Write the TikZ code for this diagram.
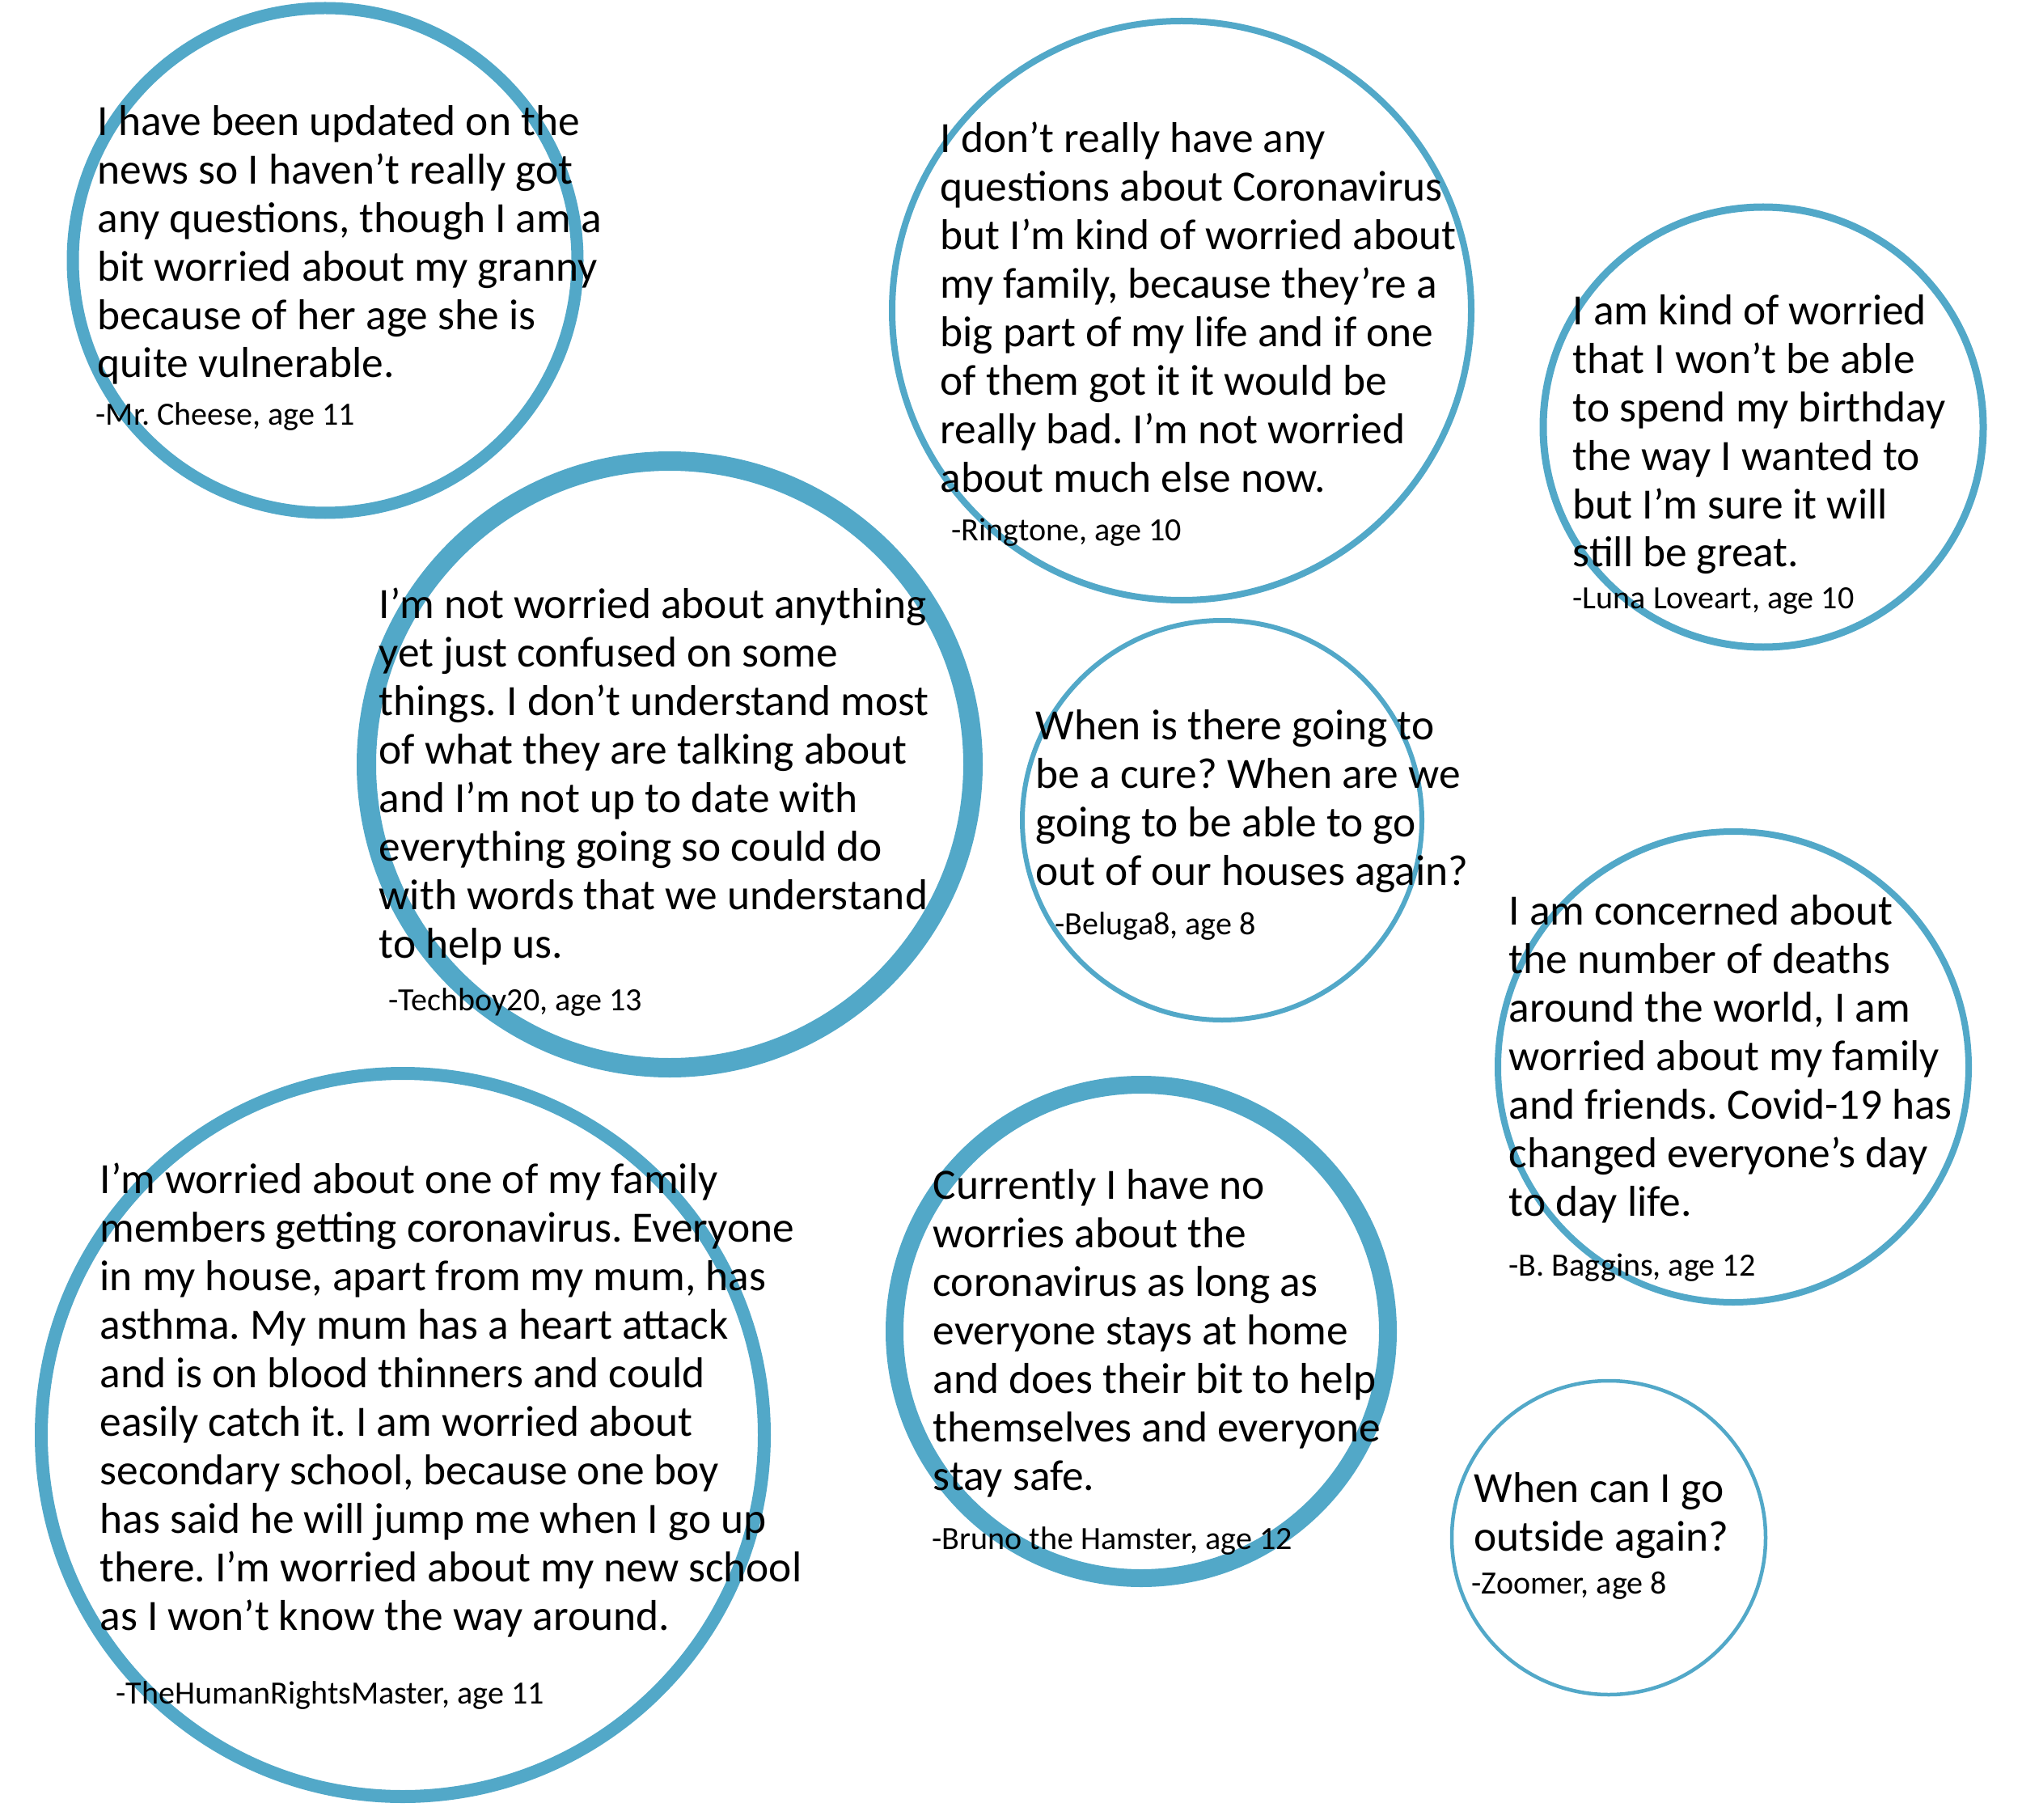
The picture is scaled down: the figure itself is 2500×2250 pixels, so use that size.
\documentclass[tikz,border=0pt]{standalone}
\usepackage{fontspec}
\setmainfont{Carlito}
\frenchspacing
\definecolor{bubble}{RGB}{82,168,200}
\tikzset{
  ring/.style={draw=bubble},
  quote/.style={anchor=base west, align=left, inner sep=0pt, font=\fontsize{15.2pt}{17.07pt}\selectfont},
  who/.style={anchor=base west, inner sep=0pt, font=\fontsize{11.4pt}{13pt}\selectfont}
}
\begin{document}
\begin{tikzpicture}[x=0.1mm, y=-0.1mm]
\useasboundingbox (0,0) rectangle (2500,2250);

% Bubbles
\draw[ring, line width=1.5mm]  (402,322)   circle[radius=312];
\draw[ring, line width=0.8mm]  (1461,384)  circle[radius=358];
\draw[ring, line width=0.9mm]  (2180,528)  circle[radius=272];
\draw[ring, line width=2.4mm]  (828,945)   circle[radius=375];
\draw[ring, line width=0.6mm]  (1511,1014) circle[radius=247];
\draw[ring, line width=0.8mm]  (2143,1319) circle[radius=291];
\draw[ring, line width=1.6mm]  (498,1774)  circle[radius=447];
\draw[ring, line width=2.2mm]  (1411,1646) circle[radius=305];
\draw[ring, line width=0.45mm] (1989,1901) circle[radius=194];

% Quotes (placed at the baseline of their last line)
\node[quote] (cheese) at (120,467) {I have been updated on the\\news so I haven’t really got\\any questions, though I am a\\bit worried about my granny\\because of her age she is\\quite vulnerable.};
\node[who] (cheesewho) at (118,526) {-Mr. Cheese, age 11};

\node[quote] (ringtone) at (1162,608) {I don’t really have any\\questions about Coronavirus\\but I’m kind of worried about\\my family, because they’re a\\big part of my life and if one\\of them got it it would be\\really bad. I’m not worried\\about much else now.};
\node[who] (ringtonewho) at (1176,669) {-Ringtone, age 10};

\node[quote] (luna) at (1944,701) {I am kind of worried\\that I won’t be able\\to spend my birthday\\the way I wanted to\\but I’m sure it will\\still be great.};
\node[who] (lunawho) at (1944,752) {-Luna Loveart, age 10};

\node[quote] (techboy) at (468,1184) {I’m not worried about anything\\yet just confused on some\\things. I don’t understand most\\of what they are talking about\\and I’m not up to date with\\everything going so could do\\with words that we understand\\to help us.};
\node[who] (techboywho) at (480,1249) {-Techboy20, age 13};

\node[quote] (beluga) at (1280,1094) {When is there going to\\be a cure? When are we\\going to be able to go\\out of our houses again?};
\node[who] (belugawho) at (1304,1155) {-Beluga8, age 8};

\node[quote] (baggins) at (1865,1503) {I am concerned about\\the number of deaths\\around the world, I am\\worried about my family\\and friends. Covid-19 has\\changed everyone’s day\\to day life.};
\node[who] (bagginswho) at (1865,1577) {-B. Baggins, age 12};

\node[quote] (rights) at (123,2015) {I’m worried about one of my family\\members getting coronavirus. Everyone\\in my house, apart from my mum, has\\asthma. My mum has a heart attack\\and is on blood thinners and could\\easily catch it. I am worried about\\secondary school, because one boy\\has said he will jump me when I go up\\there. I’m worried about my new school\\as I won’t know the way around.};
\node[who] (rightswho) at (143,2106) {-TheHumanRightsMaster, age 11};

\node[quote] (bruno) at (1153,1842) {Currently I have no\\worries about the\\coronavirus as long as\\everyone stays at home\\and does their bit to help\\themselves and everyone\\stay safe.};
\node[who] (brunowho) at (1152,1915) {-Bruno the Hamster, age 12};

\node[quote] (zoomer) at (1822,1917) {When can I go\\outside again?};
\node[who] (zoomerwho) at (1819,1970) {-Zoomer, age 8};
\end{tikzpicture}
\end{document}
